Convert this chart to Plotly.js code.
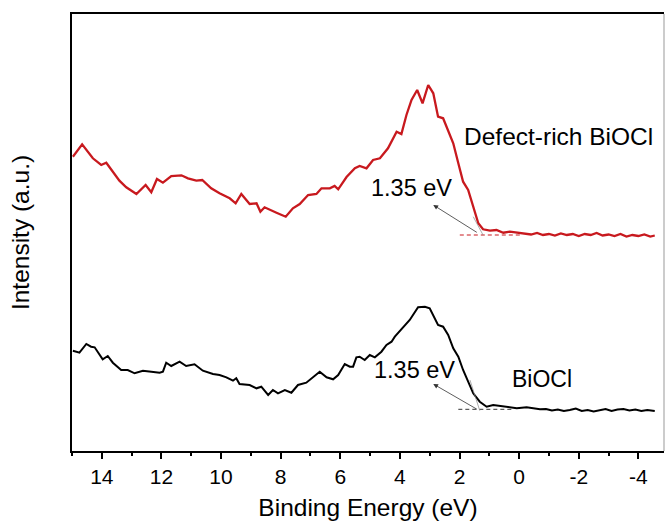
<!DOCTYPE html>
<html>
<head>
<meta charset="utf-8">
<script src="https://cdn.plot.ly/plotly-3.0.1.min.js"></script>
<style>html,body{margin:0;padding:0;background:#fff;}#chart{width:667px;height:532px;}</style>
</head>
<body>
<div id="chart"></div>
<script>
// Defect-rich BiOCl (red) — binding energy (eV) and intensity (a.u.)
const defectEnergy = [14.97,14.66,14.30,14.02,13.85,13.63,13.41,13.18,12.84,12.53,12.34,12.15,11.95,11.67,11.33,11.11,10.83,10.63,10.33,10.05,9.71,9.51,9.32,9.04,8.81,8.68,8.54,8.14,7.83,7.59,7.36,7.08,6.80,6.63,6.35,6.19,6.07,5.79,5.51,5.35,5.12,4.90,4.67,4.40,4.11,3.95,3.78,3.61,3.42,3.24,3.05,2.88,2.72,2.55,2.38,2.21,2.04,1.88,1.71,1.54,1.37,1.21,0.98,0.76,0.53,0.31,-0.14,-0.40,-0.60,-0.80,-1.00,-1.20,-1.40,-1.60,-1.80,-2.00,-2.20,-2.40,-2.60,-2.80,-3.00,-3.20,-3.40,-3.60,-3.80,-4.00,-4.20,-4.40,-4.55];
const defectIntensity = [294.3,306.7,292.7,286,288.3,279.3,270.3,263.7,257,266,258.7,272,268.3,275,275.7,272.7,270.3,271,262.7,257.7,252.7,247.7,257,247,247.7,239.3,243.7,238.3,234.3,242.7,247,256,257,262.7,262.7,265,261.7,274,282.7,285,282.7,291,292.7,302.7,319.3,317,336,351,361,347.7,366,357.7,334.3,332.7,321,307.7,287.7,269.3,261,244.3,227.7,221.7,220.3,221,218.3,219.3,217.7,216.5,218,216,217,215.5,217.5,216,217,215,217,216,218,215.5,216.5,215,217,214.5,216,215,216.5,214.5,215.5];

// BiOCl (black)
const bioclEnergy = [14.97,14.75,14.52,14.36,14.24,13.97,13.80,13.63,13.35,13.13,12.90,12.62,12.34,12.06,11.95,11.84,11.67,11.39,11.17,10.89,10.61,10.27,10.05,9.82,9.60,9.49,9.38,9.04,8.81,8.65,8.42,8.26,8.09,7.86,7.64,7.42,7.14,6.91,6.69,6.46,6.24,6.07,5.85,5.68,5.57,5.46,5.35,5.18,5.01,4.84,4.62,4.45,4.28,4.17,3.89,3.67,3.39,3.16,3.00,2.83,2.72,2.55,2.38,2.21,2.04,1.88,1.71,1.54,1.32,1.09,0.87,0.64,0.42,0.08,-0.25,-0.70,-0.90,-1.10,-1.30,-1.50,-1.70,-1.90,-2.10,-2.30,-2.50,-2.70,-2.90,-3.10,-3.30,-3.50,-3.70,-3.90,-4.10,-4.30,-4.55];
const bioclIntensity = [100.3,98.3,107,104.3,103.7,91.7,95,88.3,81,81,77.7,80.3,79.3,78.3,79.3,88.3,85,89.3,85,86.7,80.3,77,76,73.7,70.3,72.7,67,66,62.7,64.3,56,61,57.7,61,58.3,66,68.3,73.7,79.3,73.7,71.7,76,87,84.3,84.3,93.7,94.3,91,96,93.7,99.3,106,109.3,114.3,124.3,131,143.7,144.3,142.7,132.7,126,124.3,116,102.7,94.3,81,69.3,57.7,49.3,44.3,46,45,44.3,42.7,43.7,41.7,42,40.5,41.5,40,41,42.5,40,41,39.5,40.5,42,40,41.5,42,40.5,41.5,40,41,40];

// Band-edge construction lines
const defectBaseX = [1.99, -0.03], defectBaseY = [216, 216];
const defectTanX = [1.54, 1.21], defectTanY = [234.3, 216];
const bioclBaseX = [2.04, 0.20], bioclBaseY = [41.7, 41.7];
const bioclTanX = [1.65, 1.32], bioclTanY = [71, 40.3];

const xTicks = [14,12,10,8,6,4,2,0,-2,-4];
const xTickText = ['14','12','10','8','6','4','2','0','-2','-4'];

const FONT = 'Liberation Sans, Arial, Helvetica, sans-serif';
const RED = '#c8191e';

const traces = [
  {x: defectEnergy, y: defectIntensity, mode: 'lines', line: {color: RED, width: 2.3}, hoverinfo: 'skip'},
  {x: bioclEnergy, y: bioclIntensity, mode: 'lines', line: {color: '#000', width: 2}, hoverinfo: 'skip'},
  {x: defectBaseX, y: defectBaseY, mode: 'lines', line: {color: RED, width: 1, dash: '4px,3px'}},
  {x: defectTanX, y: defectTanY, mode: 'lines', line: {color: '#888', width: 0.7}},
  {x: bioclBaseX, y: bioclBaseY, mode: 'lines', line: {color: '#333', width: 1, dash: '4px,3px'}},
  {x: bioclTanX, y: bioclTanY, mode: 'lines', line: {color: '#888', width: 0.7}}
];

const arrow = (hx, hy, tx, ty) => ({x: hx, y: hy, ax: tx, ay: ty, axref: 'x', ayref: 'y', xref: 'x', yref: 'y',
  text: '', showarrow: true, arrowhead: 2, arrowsize: 1.2, arrowwidth: 0.8, arrowcolor: '#333'});

const layout = {
  width: 667, height: 532,
  margin: {l: 72, r: 3, t: 14, b: 81},
  paper_bgcolor: '#fff', plot_bgcolor: '#fff',
  showlegend: false,
  font: {family: FONT, color: '#000'},
  xaxis: {
    range: [15, -4.86], tickmode: 'array', tickvals: xTicks, ticktext: xTickText,
    ticks: 'outside', ticklen: 6, tickwidth: 2, tickcolor: '#000',
    minor: {dtick: 1, tick0: 0, ticks: 'outside', ticklen: 3, tickwidth: 2, tickcolor: '#000'},
    showgrid: false, zeroline: false, showline: true, linecolor: '#000', linewidth: 2, mirror: true,
    tickfont: {size: 21, family: FONT, color: '#000'},
    title: {text: 'Binding Energy (eV)', font: {size: 24.5, family: FONT, color: '#000'}, standoff: 12}
  },
  yaxis: {
    range: [0, 437], showticklabels: false, ticks: '', showgrid: false, zeroline: false,
    showline: true, linecolor: '#000', linewidth: 2,
    title: {text: 'Intensity (a.u.)', font: {size: 24.5, family: FONT, color: '#000'}, standoff: 33}
  },
  shapes: [
    {type: 'line', xref: 'paper', yref: 'paper', x0: 1, x1: 1, y0: 0, y1: 1, line: {color: '#999', width: 1}}
  ],
  annotations: [
    {x: -1.31, y: 314.3, xref: 'x', yref: 'y', text: 'Defect-rich BiOCl', showarrow: false, font: {size: 24.5, family: FONT, color: '#000'}},
    {x: 3.61, y: 262.7, xref: 'x', yref: 'y', text: '1.35 eV', showarrow: false, font: {size: 23.5, family: FONT, color: '#000'}},
    {x: -0.78, y: 72, xref: 'x', yref: 'y', text: 'BiOCl', showarrow: false, font: {size: 23, family: FONT, color: '#000'}},
    {x: 3.50, y: 81, xref: 'x', yref: 'y', text: '1.35 eV', showarrow: false, font: {size: 23.5, family: FONT, color: '#000'}},
    arrow(2.88, 246, 1.37, 217.7),
    arrow(2.88, 67, 1.37, 41)
  ]
};

Plotly.newPlot('chart', traces, layout, {staticPlot: true, displayModeBar: false});
</script>
</body>
</html>
